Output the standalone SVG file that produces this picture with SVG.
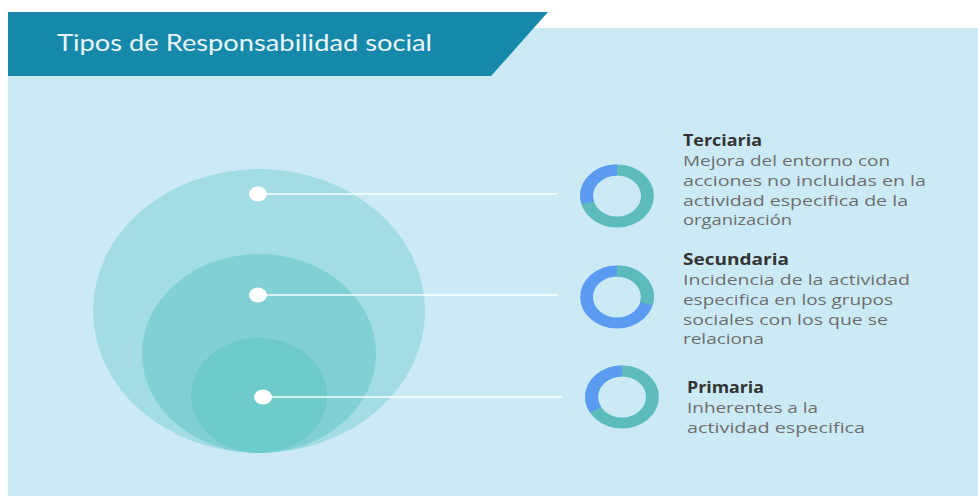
<svg xmlns="http://www.w3.org/2000/svg" width="978" height="496" viewBox="0 0 978 496">
  <style>
    .title { font-family: Lato, "Open Sans", sans-serif; font-size: 24px; fill: #eaf6fa; }
    .head { font-family: "Open Sans", "Liberation Sans", sans-serif; font-size: 16.5px; font-weight: bold; fill: #333333; }
    .body { font-family: "Open Sans", "Liberation Sans", sans-serif; font-size: 14.5px; fill: #6e6e6e; }
    .conn { stroke: #ffffff; stroke-opacity: 0.7; stroke-width: 2; fill: none; }
    .dot { fill: #ffffff; }
    .ring { fill: none; stroke-width: 11; }
  </style>
  <rect x="0" y="0" width="978" height="496" fill="#ffffff"/>
  <rect x="8" y="28" width="970" height="468" fill="#cbeaf6"/>
  <g id="header">
    <polygon points="8,12 548,12 491,76 8,76" fill="#1689ab"/>
    <text class="title" x="57" y="51" textLength="375" lengthAdjust="spacingAndGlyphs">Tipos de Responsabilidad social</text>
  </g>
  <g id="circles">
    <ellipse cx="259" cy="311" rx="166" ry="142" fill="#a2dde4"/>
    <ellipse cx="259" cy="353.5" rx="117" ry="99.5" fill="#80d0d4"/>
    <ellipse cx="259" cy="395.5" rx="68" ry="57.5" fill="#6dcbca"/>
  </g>
  <g id="connectors">
    <line class="conn" x1="258" y1="194" x2="557" y2="194"/>
    <line class="conn" x1="258" y1="295" x2="557" y2="295"/>
    <line class="conn" x1="263" y1="397" x2="562" y2="397"/>
  </g>
  <g id="dots">
    <ellipse class="dot" cx="258" cy="194" rx="9" ry="7.5"/>
    <ellipse class="dot" cx="258" cy="295" rx="9" ry="7.5"/>
    <ellipse class="dot" cx="263" cy="397" rx="9" ry="7.5"/>
  </g>
  <g id="terciaria">
    <g transform="translate(617,196) scale(1.17,1)">
      <circle class="ring" r="26" stroke="#5cbcbc"/>
      <path class="ring" d="M0,-26 A26,26 0 0 0 -25.1,6.7" stroke="#5b9cf2"/>
    </g>
    <text class="head" x="683" y="146" textLength="79" lengthAdjust="spacingAndGlyphs">Terciaria</text>
    <text class="body" x="683" y="166" textLength="207" lengthAdjust="spacingAndGlyphs">Mejora del entorno con</text>
    <text class="body" x="683" y="186" textLength="243" lengthAdjust="spacingAndGlyphs">acciones no incluidas en la</text>
    <text class="body" x="683" y="206" textLength="225" lengthAdjust="spacingAndGlyphs">actividad especifica de la</text>
    <text class="body" x="683" y="225" textLength="109" lengthAdjust="spacingAndGlyphs">organización</text>
  </g>
  <g id="secundaria">
    <g transform="translate(617,297) scale(1.17,1)">
      <circle class="ring" r="26" stroke="#5b9cf2"/>
      <path class="ring" d="M0,-26 A26,26 0 0 1 25.1,6.7" stroke="#5cbcbc"/>
    </g>
    <text class="head" x="683" y="265" textLength="106" lengthAdjust="spacingAndGlyphs">Secundaria</text>
    <text class="body" x="683" y="285" textLength="227" lengthAdjust="spacingAndGlyphs">Incidencia de la actividad</text>
    <text class="body" x="683" y="305" textLength="210" lengthAdjust="spacingAndGlyphs">especifica en los grupos</text>
    <text class="body" x="683" y="325" textLength="205" lengthAdjust="spacingAndGlyphs">sociales con los que se</text>
    <text class="body" x="683" y="344" textLength="81" lengthAdjust="spacingAndGlyphs">relaciona</text>
  </g>
  <g id="primaria">
    <g transform="translate(622,397) scale(1.17,1)">
      <circle class="ring" r="26" stroke="#5cbcbc"/>
      <path class="ring" d="M0,-26 A26,26 0 0 0 -22.5,13" stroke="#5b9cf2"/>
    </g>
    <text class="head" x="687" y="393" textLength="77" lengthAdjust="spacingAndGlyphs">Primaria</text>
    <text class="body" x="687" y="413" textLength="131" lengthAdjust="spacingAndGlyphs">Inherentes a la</text>
    <text class="body" x="687" y="433" textLength="178" lengthAdjust="spacingAndGlyphs">actividad especifica</text>
  </g>
</svg>
